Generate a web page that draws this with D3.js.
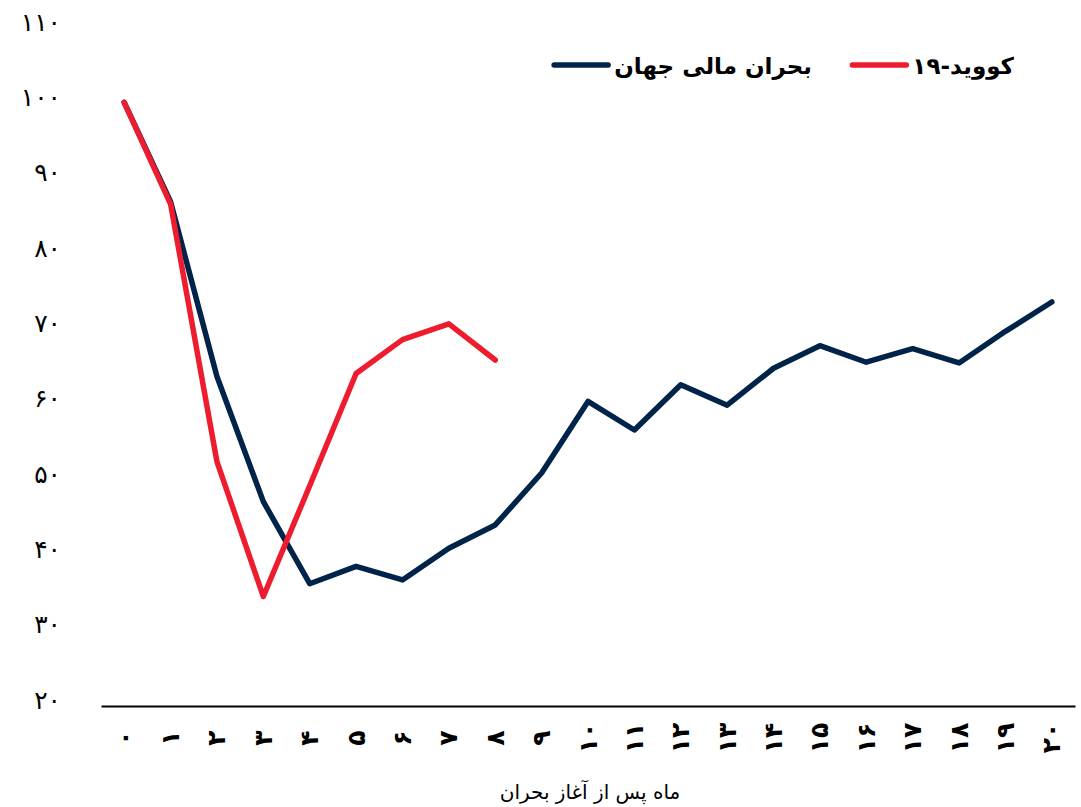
<!DOCTYPE html>
<html>
<head>
<meta charset="utf-8">
<script src="https://cdn.jsdelivr.net/npm/d3@7"></script>
<style>
  body { margin: 0; background: #fff; }
  text { font-family: "DejaVu Sans", "Noto Sans", sans-serif; }
</style>
</head>
<body>
<script>
// months since start of crisis (0..20)
const months = d3.range(0, 21);
const monthLabels = ["۰","۱","۲","۳","۴","۵","۶","۷","۸","۹","۱۰","۱۱","۱۲","۱۳","۱۴","۱۵","۱۶","۱۷","۱۸","۱۹","۲۰"];

const yTicks = [20, 30, 40, 50, 60, 70, 80, 90, 100, 110];
const yTickLabels = ["۲۰","۳۰","۴۰","۵۰","۶۰","۷۰","۸۰","۹۰","۱۰۰","۱۱۰"];

// global financial crisis
const gfcValues = [100, 86.8, 63.6, 47.0, 36.1, 38.4, 36.6, 40.8, 43.9, 50.8, 60.3,
                   56.5, 62.5, 59.8, 64.7, 67.7, 65.5, 67.3, 65.4, 69.6, 73.5];
// covid-19
const covidValues = [100, 86.5, 52.3, 34.4, 49.1, 64.0, 68.5, 70.6, 65.8];

const seriesNames = ["بحران مالی جهان", "کووید-۱۹"];
const seriesColors = ["#00234a", "#ed1c2e"];
const xTitle = "ماه پس از آغاز بحران";

const width = 1081, height = 807;
const margin = {top: 27, right: 6, bottom: 102, left: 101};

const svg = d3.select("body").append("svg")
  .attr("width", width)
  .attr("height", height);

const x = d3.scaleBand()
  .domain(months)
  .range([margin.left, width - margin.right]);

const y = d3.scaleLinear()
  .domain([20, 110])
  .range([height - margin.bottom, margin.top]);

// y labels
svg.append("g")
  .selectAll("text")
  .data(yTicks)
  .join("text")
  .attr("x", 61)
  .attr("y", d => y(d) - 5)
  .attr("dy", "0.35em")
  .attr("text-anchor", "end")
  .attr("font-size", 25)
  .attr("fill", "#000")
  .text((d, i) => yTickLabels[i]);

// x axis
const xAxis = svg.append("g")
  .attr("transform", `translate(0,${y(20) + 1})`)
  .call(d3.axisBottom(x).tickSize(0).tickFormat((d, i) => monthLabels[i]));

xAxis.select(".domain")
  .attr("stroke", "#000")
  .attr("stroke-width", 2.2);

xAxis.selectAll(".tick text")
  .attr("font-family", "DejaVu Sans")
  .attr("font-size", 25)
  .attr("font-weight", "bold")
  .attr("fill", "#000")
  .attr("text-anchor", "middle")
  .attr("dominant-baseline", "central")
  .attr("y", 0)
  .attr("dy", 0)
  .attr("transform", "translate(0,32) rotate(-90)");

svg.append("text")
  .attr("x", 590)
  .attr("y", 799)
  .attr("text-anchor", "middle")
  .attr("font-size", 20)
  .attr("fill", "#000")
  .text(xTitle);

const line = d3.line()
  .x((d, i) => x(months[i]) + x.bandwidth() / 2)
  .y(d => y(d));

[gfcValues, covidValues].forEach((vals, k) => {
  svg.append("path")
    .datum(vals)
    .attr("fill", "none")
    .attr("stroke", seriesColors[k])
    .attr("stroke-width", 5.5)
    .attr("stroke-linejoin", "round")
    .attr("stroke-linecap", "round")
    .attr("d", line);
});

// legend (right-to-left)
const legendRight = [812, 1014];
const legend = svg.append("g");
seriesNames.forEach((name, k) => {
  const t = legend.append("text")
    .attr("x", legendRight[k])
    .attr("y", 66)
    .attr("dy", "0.35em")
    .attr("text-anchor", "end")
    .attr("font-size", 23)
    .attr("font-weight", "bold")
    .attr("fill", "#000")
    .text(name);
  const w = t.node().getComputedTextLength();
  const x1 = legendRight[k] - w - 6;
  legend.append("line")
    .attr("x1", x1 - 54)
    .attr("x2", x1)
    .attr("y1", 65)
    .attr("y2", 65)
    .attr("stroke", seriesColors[k])
    .attr("stroke-width", 5.5)
    .attr("stroke-linecap", "round");
});
</script>
</body>
</html>
